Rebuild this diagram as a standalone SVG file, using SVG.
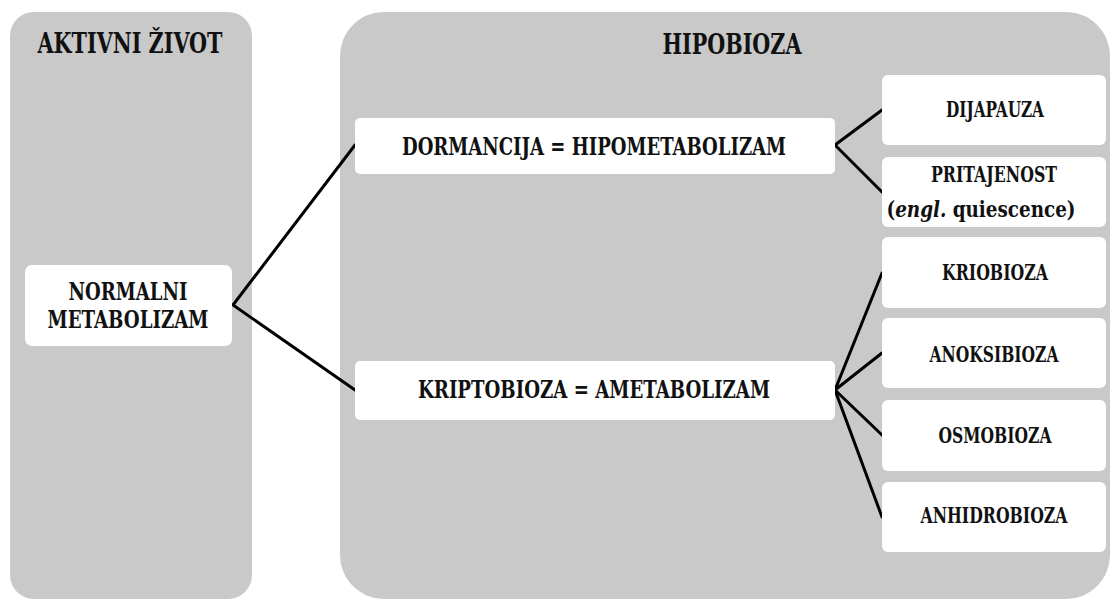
<svg xmlns="http://www.w3.org/2000/svg" width="1112" height="600" viewBox="0 0 1112 600">
<style>
.panel{fill:#c9c9c9}
.box{fill:#ffffff}
.t{font-family:'DejaVu Serif Condensed','DejaVu Serif','Liberation Serif',serif;font-weight:bold;fill:#111;text-anchor:middle}
.title{font-size:28px}
.lbl{font-size:24px}
.sm{font-size:22px}
.conn{stroke:#000;stroke-width:3;fill:none;stroke-linecap:round;stroke-linejoin:miter}
</style>
<rect width="1112" height="600" fill="#ffffff"/>
<g id="panel-aktivni">
<rect class="panel" x="10" y="12" width="242" height="587" rx="24"/>
<text class="t title" x="130" y="53" textLength="185" lengthAdjust="spacingAndGlyphs">AKTIVNI ŽIVOT</text>
</g>
<g id="panel-hipobioza">
<rect class="panel" x="340" y="12" width="770" height="587" rx="44"/>
<text class="t title" x="732" y="54" textLength="139" lengthAdjust="spacingAndGlyphs">HIPOBIOZA</text>
</g>
<g id="connectors">
<polyline class="conn" points="355,145 233,305 355,390"/>
<polyline class="conn" points="882,110 835,145 882,192"/>
<line class="conn" x1="835" y1="390" x2="882" y2="273"/>
<line class="conn" x1="835" y1="390" x2="882" y2="353"/>
<line class="conn" x1="835" y1="390" x2="882" y2="435"/>
<line class="conn" x1="835" y1="390" x2="882" y2="517"/>
</g>
<g id="normalni">
<rect class="box" x="25" y="265" width="207" height="81" rx="7"/>
<text class="t lbl" x="128" y="300" textLength="119" lengthAdjust="spacingAndGlyphs">NORMALNI</text>
<text class="t lbl" x="128" y="328" textLength="161" lengthAdjust="spacingAndGlyphs">METABOLIZAM</text>
</g>
<g id="dormancija">
<rect class="box" x="355" y="118" width="480" height="56" rx="5"/>
<text class="t lbl" x="594" y="155" textLength="384" lengthAdjust="spacingAndGlyphs">DORMANCIJA = HIPOMETABOLIZAM</text>
</g>
<g id="kriptobioza">
<rect class="box" x="355" y="361" width="480" height="59" rx="5"/>
<text class="t lbl" x="594" y="398" textLength="352" lengthAdjust="spacingAndGlyphs">KRIPTOBIOZA = AMETABOLIZAM</text>
</g>
<g id="dijapauza">
<rect class="box" x="882" y="75" width="224" height="70" rx="6"/>
<text class="t sm" x="995" y="117" textLength="98" lengthAdjust="spacingAndGlyphs">DIJAPAUZA</text>
</g>
<g id="pritajenost">
<rect class="box" x="882" y="157" width="224" height="70" rx="6"/>
<text class="t sm" x="994" y="182" textLength="126" lengthAdjust="spacingAndGlyphs">PRITAJENOST</text>
<text class="t sm" x="981" y="217" textLength="189" lengthAdjust="spacingAndGlyphs">(<tspan font-style="italic">engl.</tspan> quiescence)</text>
</g>
<g id="kriobioza">
<rect class="box" x="882" y="237" width="224" height="71" rx="6"/>
<text class="t sm" x="995" y="280" textLength="106" lengthAdjust="spacingAndGlyphs">KRIOBIOZA</text>
</g>
<g id="anoksibioza">
<rect class="box" x="882" y="318" width="224" height="70" rx="6"/>
<text class="t sm" x="994" y="362" textLength="129" lengthAdjust="spacingAndGlyphs">ANOKSIBIOZA</text>
</g>
<g id="osmobioza">
<rect class="box" x="882" y="400" width="224" height="71" rx="6"/>
<text class="t sm" x="995" y="443" textLength="113" lengthAdjust="spacingAndGlyphs">OSMOBIOZA</text>
</g>
<g id="anhidrobioza">
<rect class="box" x="882" y="482" width="224" height="70" rx="6"/>
<text class="t sm" x="994" y="523" textLength="147" lengthAdjust="spacingAndGlyphs">ANHIDROBIOZA</text>
</g>
</svg>
